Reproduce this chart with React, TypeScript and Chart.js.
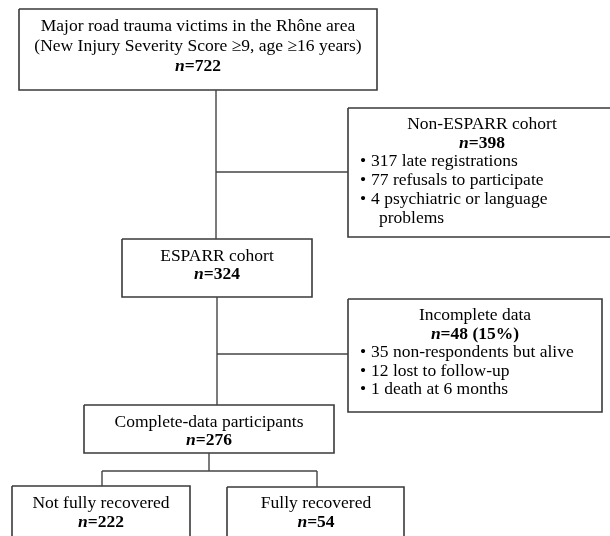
import React, { useEffect, useRef } from "react";
import { Chart, registerables } from "chart.js";

Chart.register(...registerables);

// ---- Data (content of the flowchart) ----
const boxTitles: string[][] = [
  ["Major road trauma victims in the Rhône area", "(New Injury Severity Score ≥9, age ≥16 years)"],
  ["Non-ESPARR cohort"],
  ["ESPARR cohort"],
  ["Incomplete data"],
  ["Complete-data participants"],
  ["Not fully recovered"],
  ["Fully recovered"],
];
const boxCounts: number[] = [722, 398, 324, 48, 276, 222, 54];
const countNotes: string[] = ["", "", "", " (15%)", "", "", ""];
const nonEsparrBullets: string[][] = [
  ["317 late registrations"],
  ["77 refusals to participate"],
  ["4 psychiatric or language", "problems"],
];
const incompleteBullets: string[][] = [
  ["35 non-respondents but alive"],
  ["12 lost to follow-up"],
  ["1 death at 6 months"],
];
const boxBullets: (string[][] | null)[] = [null, nonEsparrBullets, null, incompleteBullets, null, null, null];

// ---- Layout (positions in chart units, kept apart from the data) ----
interface BoxLayout { x0: number; x1: number; y0: number; y1: number; cx: number; base: number; lh: number; bulletX?: number; textX?: number; contX?: number; }
const boxLayout: BoxLayout[] = [
  { x0: 19, x1: 377, y0: 9, y1: 90, cx: 198, base: 31, lh: 20 },
  { x0: 348, x1: 612, y0: 108, y1: 237, cx: 482, base: 129, lh: 18.7, bulletX: 360, textX: 371, contX: 379 },
  { x0: 122, x1: 312, y0: 239, y1: 297, cx: 217, base: 261, lh: 18 },
  { x0: 348, x1: 602, y0: 299, y1: 412, cx: 475, base: 320, lh: 18.5, bulletX: 360, textX: 371, contX: 379 },
  { x0: 84, x1: 334, y0: 405, y1: 453, cx: 209, base: 427, lh: 17.5 },
  { x0: 12, x1: 190, y0: 486, y1: 560, cx: 101, base: 508, lh: 19 },
  { x0: 227, x1: 404, y0: 487, y1: 560, cx: 316, base: 508, lh: 19 },
];
const connectorLayout: number[][][] = [
  [[216, 90], [216, 239]],
  [[216, 172], [348, 172]],
  [[217, 297], [217, 405]],
  [[217, 354], [348, 354]],
  [[209, 453], [209, 471]],
  [[102, 471], [317, 471]],
  [[102, 471], [102, 486]],
  [[317, 471], [317, 487]],
];

const FONT = '"Liberation Serif", "Times New Roman", serif';
const FS = 17.5;

const textPlugin = {
  id: "flowText",
  afterDatasetsDraw(chart: any) {
    const ctx = chart.ctx as CanvasRenderingContext2D;
    const xs = chart.scales.x;
    const ys = chart.scales.y;
    const px = (v: number) => xs.getPixelForValue(v);
    const py = (v: number) => ys.getPixelForValue(v);
    ctx.save();
    ctx.fillStyle = "#000";
    ctx.textBaseline = "alphabetic";
    ctx.textAlign = "left";
    boxLayout.forEach((b, i) => {
      let line = 0;
      const yAt = (k: number) => py(b.base + k * b.lh);
      ctx.font = `${FS}px ${FONT}`;
      boxTitles[i].forEach((t) => {
        const w = ctx.measureText(t).width;
        ctx.fillText(t, px(b.cx) - w / 2, yAt(line));
        line++;
      });
      const segs = [
        { t: "n", f: `italic bold ${FS}px ${FONT}` },
        { t: "=" + boxCounts[i] + countNotes[i], f: `bold ${FS}px ${FONT}` },
      ];
      let total = 0;
      segs.forEach((s) => { ctx.font = s.f; total += ctx.measureText(s.t).width; });
      let x = px(b.cx) - total / 2;
      segs.forEach((s) => { ctx.font = s.f; ctx.fillText(s.t, x, yAt(line)); x += ctx.measureText(s.t).width; });
      line++;
      const bl = boxBullets[i];
      if (bl) {
        ctx.font = `${FS}px ${FONT}`;
        bl.forEach((item) => {
          item.forEach((t, k) => {
            if (k === 0) {
              ctx.fillText("•", px(b.bulletX!), yAt(line));
              ctx.fillText(t, px(b.textX!), yAt(line));
            } else {
              ctx.fillText(t, px(b.contX!), yAt(line));
            }
            line++;
          });
        });
      }
    });
    ctx.restore();
  },
};

export default function App() {
  const ref = useRef<HTMLCanvasElement | null>(null);
  useEffect(() => {
    document.body.style.margin = "0";
    if (!ref.current) return;
    const boxSets = boxLayout.map((b) => ({
      data: [
        { x: b.x0, y: b.y0 }, { x: b.x1, y: b.y0 }, { x: b.x1, y: b.y1 },
        { x: b.x0, y: b.y1 }, { x: b.x0, y: b.y0 },
      ],
      borderColor: "#3a3a3a",
      borderWidth: 1.6,
      showLine: true,
      pointRadius: 0,
      fill: false,
      tension: 0,
      borderJoinStyle: "miter" as const,
    }));
    const lineSets = connectorLayout.map((seg) => ({
      data: seg.map((p) => ({ x: p[0], y: p[1] })),
      borderColor: "#444",
      borderWidth: 1.4,
      showLine: true,
      pointRadius: 0,
      fill: false,
      tension: 0,
    }));
    const chart = new Chart(ref.current, {
      type: "scatter",
      data: { datasets: [...lineSets, ...boxSets] as any },
      options: {
        animation: false,
        responsive: false,
        devicePixelRatio: 1,
        layout: { padding: 0 },
        plugins: { legend: { display: false }, tooltip: { enabled: false } },
        events: [],
        scales: {
          x: { type: "linear", min: 0, max: 610, display: false },
          y: { type: "linear", min: 0, max: 536, reverse: true, display: false },
        },
      },
      plugins: [textPlugin],
    });
    return () => chart.destroy();
  }, []);
  return (
    <div style={{ width: 610, height: 536, background: "#fff" }}>
      <canvas ref={ref} width={610} height={536} style={{ display: "block" }} />
    </div>
  );
}
